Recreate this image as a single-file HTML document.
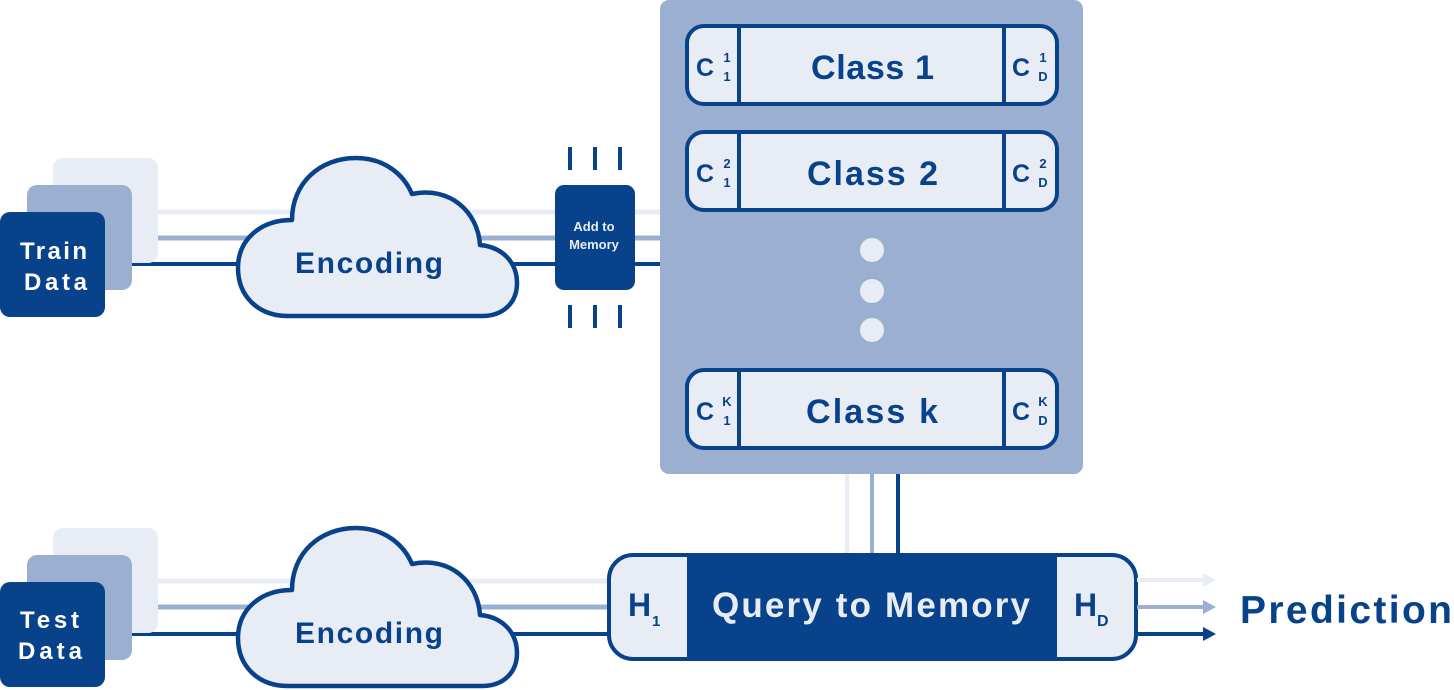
<!DOCTYPE html>
<html><head><meta charset="utf-8"><style>
html,body{margin:0;padding:0;background:#fff}
svg{display:block}
text{font-family:"Liberation Sans",sans-serif;font-weight:bold}
</style></head><body>
<svg width="1454" height="690" viewBox="0 0 1454 690" xmlns="http://www.w3.org/2000/svg">
<defs>
<g id="cloud">
<path d="M288,316 C258,316 238,296 238,268 C238,240 260,220 292,220 C292,183 320,158 356,158 C385,158 404,175 412,194 C450,186 478,212 480,245 C503,247 517,263 517,283 C517,303 503,316 482,316 Z" fill="#e8edf5" stroke="#08428a" stroke-width="4.5" stroke-linejoin="round"/>
</g>
</defs>
<rect x="660" y="0" width="423" height="474" rx="9" fill="#9bb0d0"/>
<line x1="158" y1="212" x2="660" y2="212" stroke="#e8edf5" stroke-width="5"/>
<line x1="132" y1="238" x2="660" y2="238" stroke="#9bb0d0" stroke-width="5"/>
<line x1="105" y1="264" x2="660" y2="264" stroke="#08428a" stroke-width="4"/>
<rect x="53" y="158" width="105" height="105" rx="10" fill="#e8edf5"/>
<rect x="27" y="185" width="105" height="105" rx="10" fill="#9bb0d0"/>
<rect x="0" y="212" width="105" height="105" rx="10" fill="#08428a"/>
<text x="20" y="259" font-size="24" fill="#fff" textLength="67">Train</text>
<text x="24" y="290" font-size="24" fill="#fff" textLength="63">Data</text>
<use href="#cloud"/>
<text x="295" y="273" font-size="30" fill="#08428a" textLength="148">Encoding</text>
<g stroke="#08428a" stroke-width="4">
<line x1="570" y1="147" x2="570" y2="170"/><line x1="595" y1="147" x2="595" y2="170"/><line x1="620" y1="147" x2="620" y2="170"/>
<line x1="570" y1="305" x2="570" y2="328"/><line x1="595" y1="305" x2="595" y2="328"/><line x1="620" y1="305" x2="620" y2="328"/>
</g>
<rect x="555" y="185" width="80" height="105" rx="9" fill="#08428a"/>
<text x="594" y="231" font-size="13" fill="#e8edf5" text-anchor="middle">Add to</text>
<text x="594" y="249" font-size="13" fill="#e8edf5" text-anchor="middle">Memory</text>
<g id="row1">
<rect x="687" y="26" width="370" height="78" rx="17" fill="#e8edf5" stroke="#08428a" stroke-width="4"/>
<line x1="739" y1="26" x2="739" y2="104" stroke="#08428a" stroke-width="4"/>
<line x1="1004" y1="26" x2="1004" y2="104" stroke="#08428a" stroke-width="4"/>
</g>
<use href="#row1" y="106"/>
<use href="#row1" y="344"/>
<g fill="#08428a">
<text x="811" y="79" font-size="34" textLength="123">Class 1</text>
<text x="807" y="185" font-size="34" textLength="131">Class 2</text>
<text x="806" y="423" font-size="34" textLength="132">Class k</text>
<g font-size="25"><text x="696" y="76">C</text><text x="1012" y="76">C</text>
<text x="696" y="182">C</text><text x="1012" y="182">C</text>
<text x="696" y="420">C</text><text x="1012" y="420">C</text></g>
<g font-size="13" text-anchor="middle">
<text x="727" y="62">1</text><text x="727" y="81">1</text><text x="1043" y="62">1</text><text x="1043" y="81">D</text>
<text x="727" y="168">2</text><text x="727" y="187">1</text><text x="1043" y="168">2</text><text x="1043" y="187">D</text>
<text x="727" y="406">K</text><text x="727" y="425">1</text><text x="1043" y="406">K</text><text x="1043" y="425">D</text>
</g></g>
<g fill="#e8edf5"><circle cx="872" cy="250" r="12"/><circle cx="872" cy="291" r="12"/><circle cx="872" cy="330" r="12"/></g>
<line x1="847" y1="474" x2="847" y2="555" stroke="#e8edf5" stroke-width="4"/>
<line x1="872" y1="474" x2="872" y2="555" stroke="#9bb0d0" stroke-width="4"/>
<line x1="898" y1="474" x2="898" y2="555" stroke="#08428a" stroke-width="4"/>
<line x1="158" y1="581" x2="610" y2="581" stroke="#e8edf5" stroke-width="5"/>
<line x1="132" y1="607" x2="610" y2="607" stroke="#9bb0d0" stroke-width="5"/>
<line x1="105" y1="634" x2="610" y2="634" stroke="#08428a" stroke-width="4"/>
<rect x="53" y="528" width="105" height="105" rx="10" fill="#e8edf5"/>
<rect x="27" y="555" width="105" height="105" rx="10" fill="#9bb0d0"/>
<rect x="0" y="582" width="105" height="105" rx="10" fill="#08428a"/>
<text x="20" y="628" font-size="24" fill="#fff" textLength="59">Test</text>
<text x="18" y="659" font-size="24" fill="#fff" textLength="64">Data</text>
<use href="#cloud" y="370"/>
<text x="295" y="643" font-size="30" fill="#08428a" textLength="148">Encoding</text>
<clipPath id="qc"><rect x="609" y="555" width="527" height="104" rx="24"/></clipPath>
<rect x="609" y="555" width="527" height="104" rx="24" fill="#08428a"/>
<g clip-path="url(#qc)">
<rect x="609" y="555" width="78" height="104" fill="#e8edf5"/>
<rect x="1057" y="555" width="80" height="104" fill="#e8edf5"/>
</g>
<rect x="609" y="555" width="527" height="104" rx="24" fill="none" stroke="#08428a" stroke-width="4"/>
<text x="712" y="617" font-size="35" fill="#e8edf5" textLength="318">Query to Memory</text>
<text x="628" y="616" font-size="32" fill="#08428a">H</text><text x="652" y="626" font-size="15" fill="#08428a">1</text>
<text x="1074" y="616" font-size="32" fill="#08428a">H</text><text x="1097" y="626" font-size="16" fill="#08428a">D</text>
<line x1="1137" y1="580" x2="1205" y2="580" stroke="#e8edf5" stroke-width="4"/>
<polygon points="1203,573 1216,580 1203,587" fill="#e8edf5"/>
<line x1="1137" y1="607" x2="1205" y2="607" stroke="#9bb0d0" stroke-width="4"/>
<polygon points="1203,600 1216,607 1203,614" fill="#9bb0d0"/>
<line x1="1137" y1="634" x2="1205" y2="634" stroke="#08428a" stroke-width="4"/>
<polygon points="1203,627 1216,634 1203,641" fill="#08428a"/>
<text x="1240" y="623" font-size="39" fill="#08428a" textLength="212">Prediction</text>
</svg>
</body></html>
